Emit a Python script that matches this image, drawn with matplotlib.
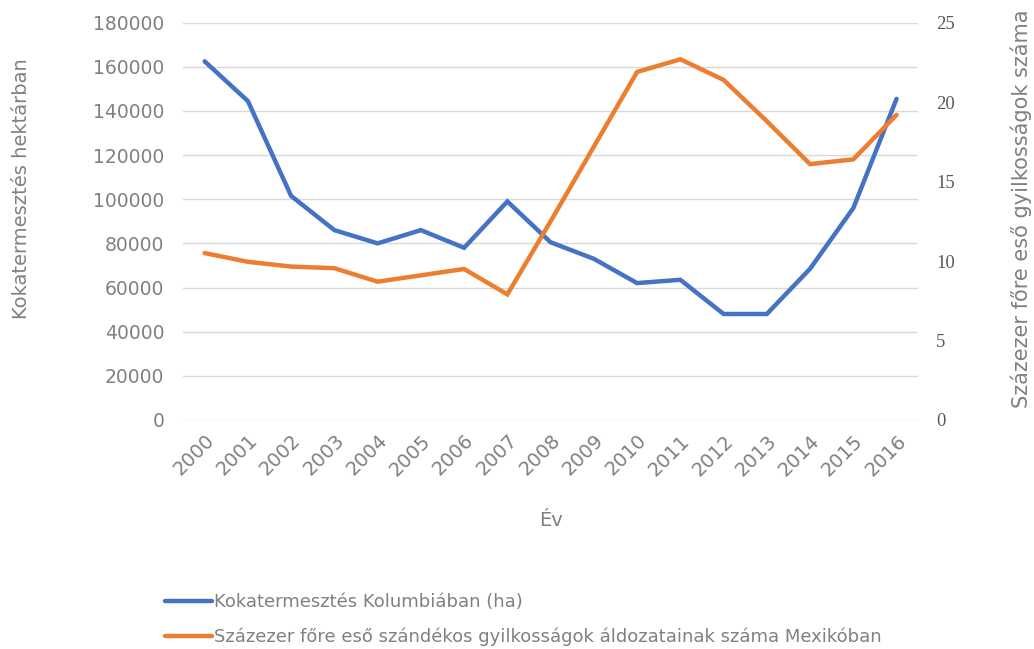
import matplotlib
matplotlib.use("Agg")
import matplotlib.pyplot as plt
import numpy as np

years = ["2000", "2001", "2002", "2003", "2004", "2005", "2006", "2007", "2008",
         "2009", "2010", "2011", "2012", "2013", "2014", "2015", "2016"]
koka = [162500, 144500, 101500, 86000, 80000, 86000, 78000, 99000, 80500,
        73000, 62000, 63500, 48000, 48000, 68500, 96000, 145500]
gyilk = [10.5, 9.95, 9.65, 9.55, 8.7, 9.1, 9.5, 7.9, 12.5,
         17.2, 21.9, 22.7, 21.4, 18.8, 16.1, 16.4, 19.2]

plt.rcParams["font.family"] = ["DejaVu Sans"]
grey = "#808080"

fig = plt.figure(figsize=(10.34, 6.49), dpi=100)
ax = fig.add_axes([0.177, 0.353, 0.711, 0.612])
ax2 = ax.twinx()

x = np.arange(len(years))
l1, = ax.plot(x, koka, color="#4472C4", lw=3.2, solid_joinstyle="miter",
              solid_capstyle="round", label="Kokatermesztés Kolumbiában (ha)")
l2, = ax2.plot(x, gyilk, color="#ED7D31", lw=3.2, solid_joinstyle="miter",
               solid_capstyle="round",
               label="Százezer főre eső szándékos gyilkosságok áldozatainak száma Mexikóban")

ax.set_xlim(-0.5, len(years) - 0.5)
ax.set_ylim(0, 180000)
ax.set_yticks(np.arange(0, 180001, 20000))
ax2.set_ylim(0, 25)
ax2.set_yticks(np.arange(0, 26, 5))
ax.grid(axis="y", color="#D9D9D9", lw=1)
ax.set_axisbelow(True)

for a in (ax, ax2):
    for s in a.spines.values():
        s.set_visible(False)
    a.tick_params(length=0, colors=grey)

ax.set_xticks(x)
ax.set_xticklabels(years, rotation=45, ha="right", rotation_mode="anchor", fontsize=14)
ax.tick_params(axis="x", pad=8)
ax.tick_params(axis="y", labelsize=13.5, pad=13.5)
for t in ax2.get_yticklabels():
    t.set_fontfamily("Liberation Serif")
    t.set_fontsize(13.5)
    t.set_color("#595959")
ax2.tick_params(axis="y", pad=13)

ax.set_xlabel("Év", fontsize=14, color=grey, labelpad=23)
fig.text(0.021, 0.71, "Kokatermesztés hektárban", rotation=90, fontsize=14,
         color=grey, ha="center", va="center")
fig.text(0.988, 0.371, "Százezer főre eső gyilkosságok száma", rotation=90,
         fontsize=15, color=grey, ha="center", va="bottom")

fig.legend(handles=[l1, l2], loc="upper left", bbox_to_anchor=(0.153, 0.097),
           frameon=False, fontsize=13, labelcolor=grey, handlelength=2.6,
           handletextpad=0.1, labelspacing=0.9, borderaxespad=0)

fig.savefig("out.png", dpi=100)
